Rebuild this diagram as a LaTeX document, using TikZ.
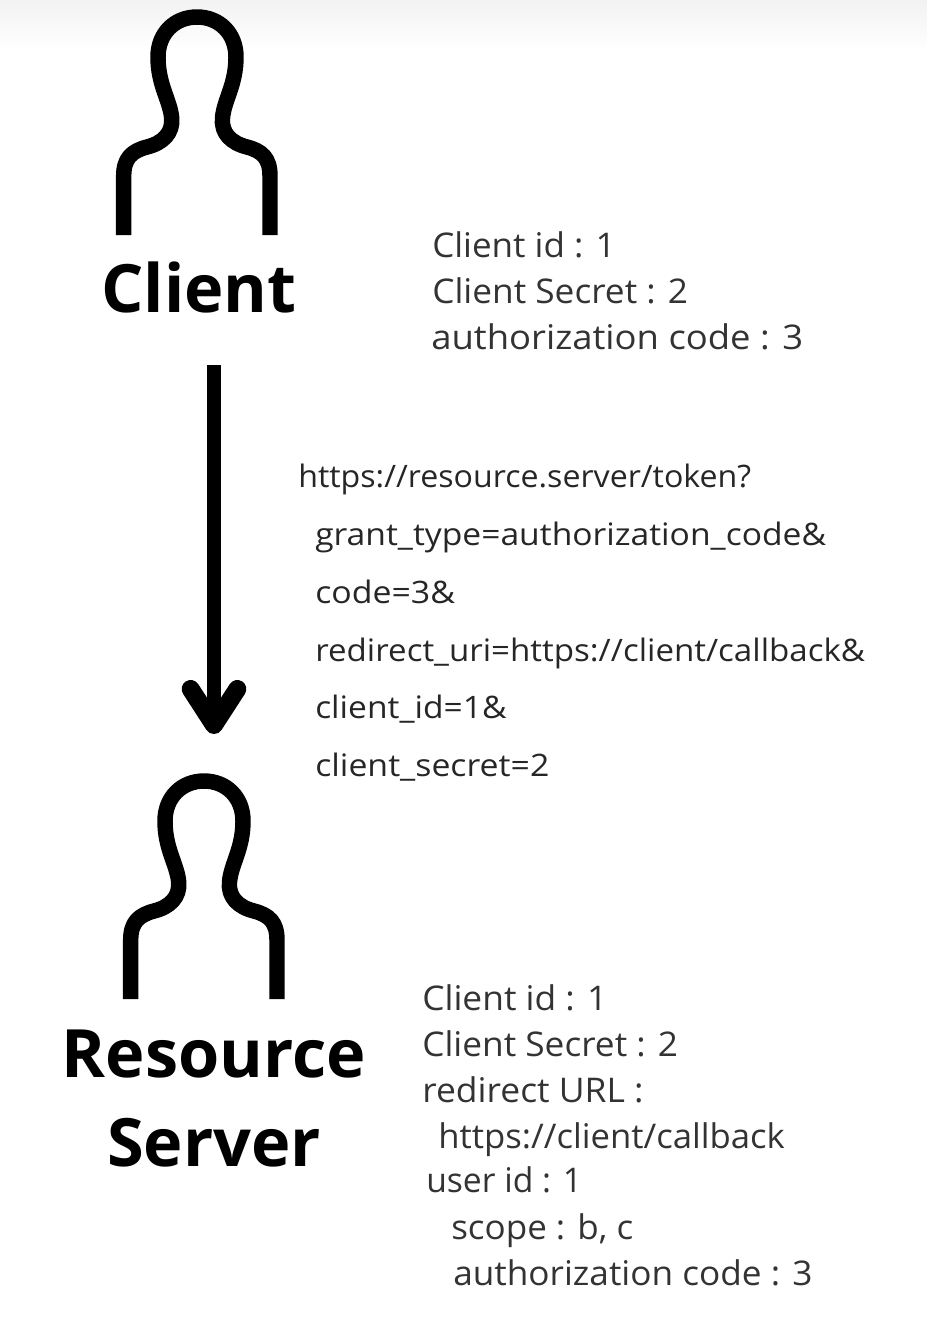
\documentclass[tikz,border=0pt]{standalone}
\usepackage{fontspec}
\usepackage{graphicx}
\setmainfont{Open Sans}
\usetikzlibrary{arrows.meta}
\definecolor{ink}{gray}{0.0}
\definecolor{thin}{gray}{0.2}
\newcommand{\wide}[2]{\scalebox{#1}[1]{#2}}
\tikzset{
  x=0.75pt,y=-0.75pt,
  personline/.style={line width=11.6pt,draw=ink,line cap=butt,line join=round},
  title/.style={anchor=base,font=\bfseries\fontsize{50}{50}\selectfont,text=ink,inner sep=0pt},
  note/.style={anchor=base west,font=\fontsize{25.5}{25.5}\selectfont,text=thin,inner sep=0pt},
  url/.style={anchor=base west,font=\fontsize{23.2}{23.2}\selectfont,text=ink!85,inner sep=0pt},
  person/.pic={
    \draw[personline] (123.7,235) -- (123.7,176)
      .. controls (123.7,158) and (132,151) .. (147,147)
      .. controls (163,143) and (173,133) .. (171.7,118)
      .. controls (170,100) and (158,85) .. (158,57)
      .. controls (158,33) and (175,17) .. (197,17)
      .. controls (219,17) and (236,33) .. (236,57)
      .. controls (236,85) and (224,100) .. (222.5,118)
      .. controls (221,133) and (231,143) .. (247,147)
      .. controls (262,151) and (270,158) .. (270,176)
      -- (270,235);
  }
}
\begin{document}
\begin{tikzpicture}
\useasboundingbox (0,0) rectangle (927,1318);
\shade[top color=black!5,bottom color=white] (0,0) rectangle (927,50);
\pic at (0,0) {person};
\pic at (7,764) {person};
\node[title] (client) at (199,312.5) {Client};
\node[title] (resource) at (214,1077) {Resource};
\node[title] (server) at (214,1166) {Server};
\coordinate (arrowstart) at (214,365);
\coordinate (arrowend) at (214,734);
\draw[line width=10.2pt,draw=ink,-{Straight Barb[length=27pt,width=35pt,line width=13.5pt,round]}] (arrowstart) -- (arrowend);
\node[note] (c1) at (432,257) {\wide{1.03}{Client id : 1}};
\node[note] (c2) at (432,303) {\wide{1.037}{Client Secret : 2}};
\node[note] (c3) at (431,349) {\wide{1.072}{authorization code : 3}};
\node[url] (u1) at (298,487) {\wide{1.039}{https://resource.server/token?}};
\node[url] (u2) at (315,545) {\wide{1.087}{grant\_type=authorization\_code\&}};
\node[url] (u3) at (315,603) {\wide{1.095}{code=3\&}};
\node[url] (u4) at (315,661) {\wide{1.07}{redirect\_uri=https://client/callback\&}};
\node[url] (u5) at (315,718) {\wide{1.085}{client\_id=1\&}};
\node[url] (u6) at (315,776) {\wide{1.094}{client\_secret=2}};
\node[note] (s1) at (422,1010) {\wide{1.04}{Client id : 1}};
\node[note] (s2) at (422,1056) {\wide{1.037}{Client Secret : 2}};
\node[note] (s3) at (422,1102) {\wide{1.043}{redirect URL :}};
\node[note] (s4) at (438,1148) {\wide{1.02}{https://client/callback}};
\node[note] (s5) at (426,1192) {\wide{0.99}{user id : 1}};
\node[note] (s6) at (451,1239) {\wide{1.03}{scope : b, c}};
\node[note] (s7) at (453,1285) {\wide{1.035}{authorization code : 3}};
\end{tikzpicture}
\end{document}
